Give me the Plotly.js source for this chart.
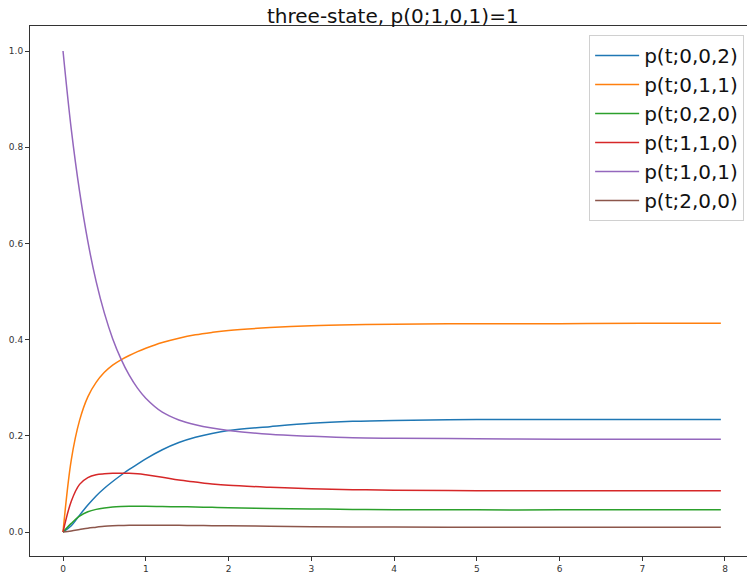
<!DOCTYPE html>
<html>
<head>
<meta charset="utf-8">
<script src="https://cdn.plot.ly/plotly-3.0.1.min.js"></script>
<style>html,body{margin:0;padding:0;background:#fff;}#chart{width:747px;height:574px;}</style>
</head>
<body>
<div id="chart"></div>
<script>
// time samples
var t = [0, 0.1, 0.2, 0.3, 0.4, 0.5, 0.6, 0.7, 0.8, 0.9, 1.0, 1.2, 1.4, 1.6, 1.8, 2.0, 2.5, 3.0, 3.5, 4.0, 5.0, 6.0, 7.0, 7.95];

var labels = ["p(t;0,0,2)", "p(t;0,1,1)", "p(t;0,2,0)", "p(t;1,1,0)", "p(t;1,0,1)", "p(t;2,0,0)"];

var p002 = [0, 0.013, 0.035, 0.056, 0.075, 0.091, 0.105, 0.118, 0.130, 0.141, 0.152, 0.171, 0.186, 0.197, 0.205, 0.211, 0.219, 0.226, 0.230, 0.232, 0.234, 0.234, 0.234, 0.234];
var p011 = [0, 0.150, 0.232, 0.281, 0.311, 0.332, 0.347, 0.358, 0.367, 0.375, 0.382, 0.394, 0.403, 0.410, 0.415, 0.419, 0.425, 0.429, 0.431, 0.432, 0.433, 0.433, 0.434, 0.434];
var p020 = [0, 0.018, 0.033, 0.042, 0.047, 0.050, 0.052, 0.053, 0.0535, 0.0537, 0.0537, 0.053, 0.0525, 0.052, 0.0513, 0.0505, 0.049, 0.048, 0.047, 0.0465, 0.046, 0.046, 0.046, 0.046];
var p110 = [0, 0.064, 0.099, 0.113, 0.119, 0.121, 0.122, 0.122, 0.122, 0.121, 0.119, 0.114, 0.108, 0.104, 0.100, 0.097, 0.093, 0.090, 0.088, 0.087, 0.086, 0.086, 0.086, 0.086];
var p101 = [1.0, 0.837, 0.708, 0.604, 0.521, 0.455, 0.402, 0.360, 0.326, 0.299, 0.278, 0.249, 0.233, 0.223, 0.216, 0.211, 0.203, 0.199, 0.196, 0.195, 0.194, 0.193, 0.193, 0.193];
var p200 = [0, 0.002, 0.005, 0.008, 0.010, 0.012, 0.013, 0.0135, 0.014, 0.014, 0.014, 0.014, 0.0138, 0.0135, 0.0132, 0.013, 0.012, 0.011, 0.0105, 0.0102, 0.010, 0.0098, 0.0097, 0.0097];

var series = [p002, p011, p020, p110, p101, p200];
var colors = ["#1f77b4", "#ff7f0e", "#2ca02c", "#d62728", "#9467bd", "#8c564b"];

var xTicks = [0, 1, 2, 3, 4, 5, 6, 7, 8];
var yTicks = [0.0, 0.2, 0.4, 0.6, 0.8, 1.0];
var yTickText = ["0.0", "0.2", "0.4", "0.6", "0.8", "1.0"];

var traces = series.map(function (s, i) {
  return {
    x: t, y: s, type: "scatter", mode: "lines", name: labels[i],
    line: {color: colors[i], width: 1.5, shape: "spline", smoothing: 1}
  };
});

var layout = {
  width: 747, height: 574,
  margin: {l: 30, r: 0, t: 26, b: 18, pad: 0},
  paper_bgcolor: "#fff", plot_bgcolor: "#fff",
  font: {family: "DejaVu Sans", color: "#222"},
  title: {text: "three-state, p(0;1,0,1)=1", font: {size: 20, family: "DejaVu Sans", color: "#111"},
          x: 0.506, xanchor: "center", xref: "paper", y: 0.972, yref: "container", yanchor: "middle"},
  xaxis: {range: [-0.399, 8.266], tickvals: xTicks, ticktext: xTicks.map(String), showgrid: false, zeroline: false,
          showline: true, linecolor: "#333", linewidth: 1, mirror: true, ticks: "outside", ticklen: 4, tickcolor: "#333",
          tickfont: {size: 9, family: "DejaVu Sans", color: "#333"}},
  yaxis: {range: [-0.0499, 1.052], tickvals: yTicks, ticktext: yTickText, showgrid: false, zeroline: false,
          showline: true, linecolor: "#333", linewidth: 1, ticks: "outside", ticklen: 4, tickcolor: "#333",
          tickfont: {size: 9, family: "DejaVu Sans", color: "#333"}},
  showlegend: true,
  legend: {x: 0.996, xanchor: "right", y: 0.983, yanchor: "top", bgcolor: "rgba(255,255,255,0.8)",
           bordercolor: "#d0d0d0", borderwidth: 1, font: {size: 20, family: "DejaVu Sans", color: "#111"},
           itemwidth: 44, tracegroupgap: 0}
};

Plotly.newPlot("chart", traces, layout, {displayModeBar: false, staticPlot: true});
</script>
</body>
</html>
